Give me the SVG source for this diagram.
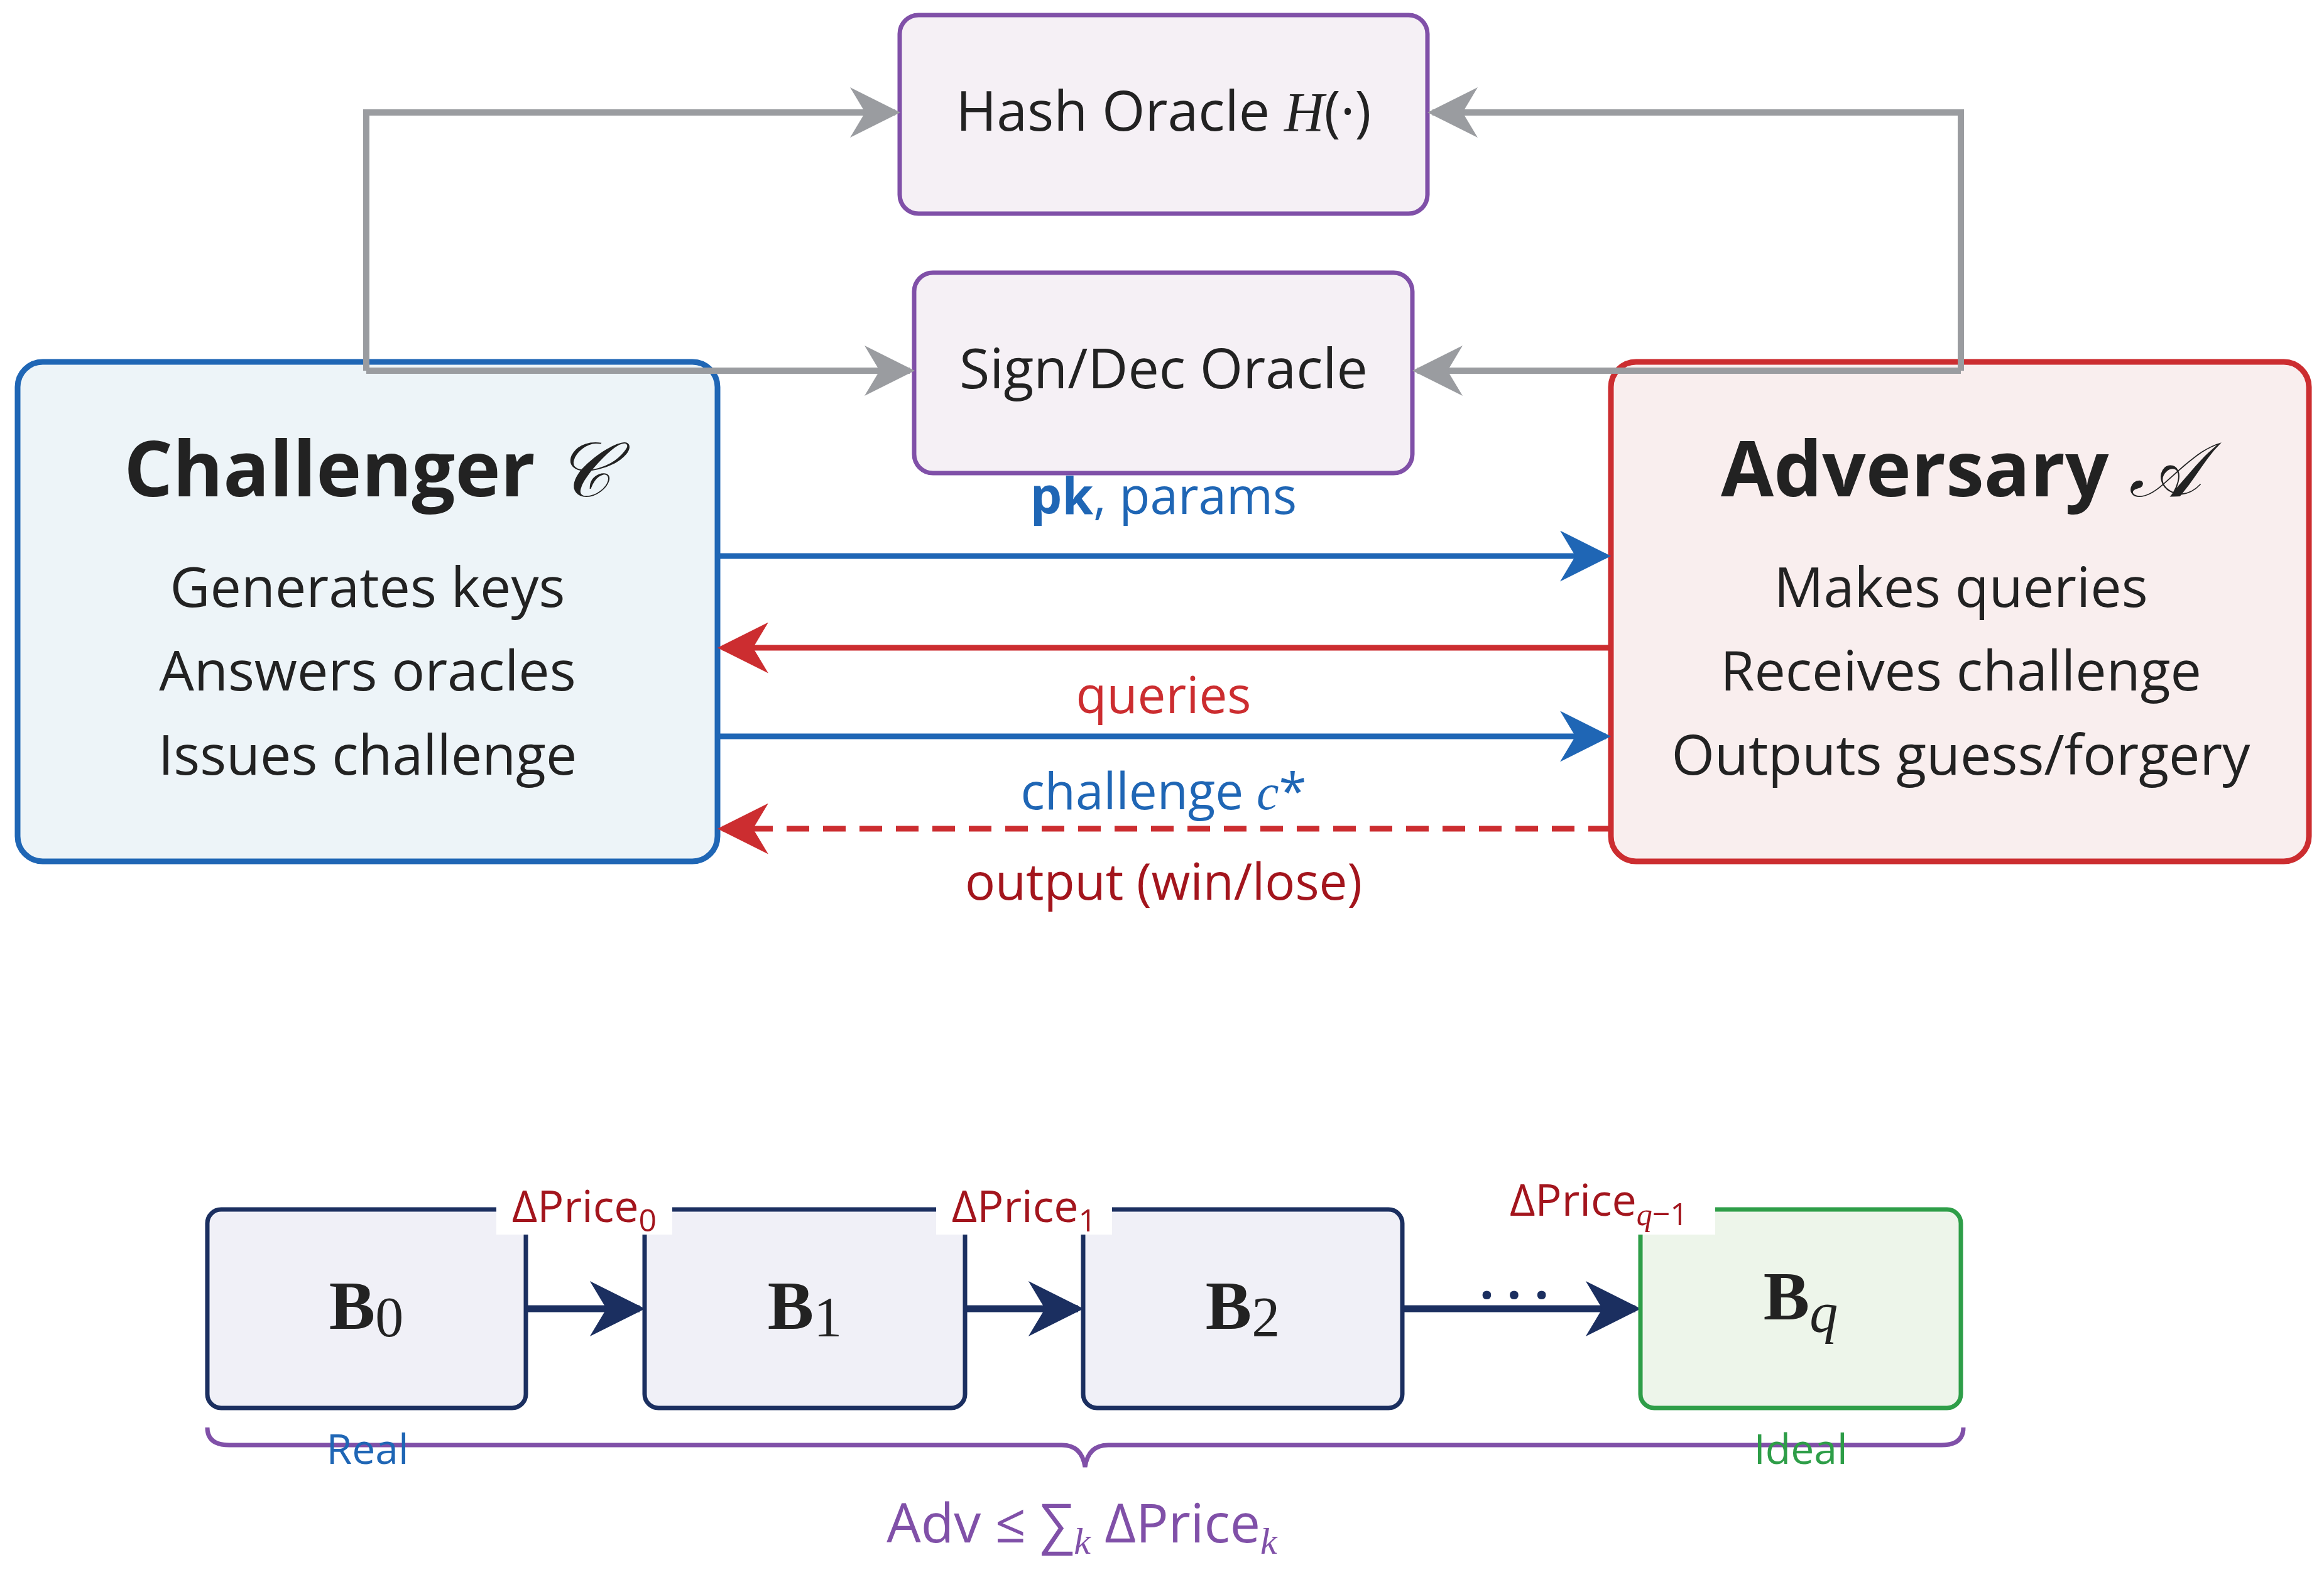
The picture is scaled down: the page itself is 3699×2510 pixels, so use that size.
<svg xmlns="http://www.w3.org/2000/svg" width="3699" height="2510" viewBox="0 0 3699 2510">
<style>
text{font-family:"Open Sans","Liberation Sans",sans-serif;text-anchor:middle}
.m{font-family:"Liberation Serif",serif;font-style:italic}
.body{font-size:88px;fill:#222}
.title{font-size:122px;font-weight:bold;fill:#222}
.or{font-size:88px;fill:#222}
.g{fill:none;stroke:#9a9ca0;stroke-width:10}
.bl{stroke:#1f66b5;stroke-width:9;fill:none}
.rd{stroke:#cc2d30;stroke-width:9;fill:none}
.nv{stroke:#1b2f60;stroke-width:11;fill:none}
.bx{fill:#f0f0f7;stroke:#1b2f60;stroke-width:7}
.lab{font-size:70px;fill:#a3151d}
.bt{font-family:"Liberation Serif",serif;font-size:110px;fill:#222}
</style>
<defs>
<marker id="gA" viewBox="0 0 10 10" refX="9" refY="5" markerWidth="10" markerHeight="8" orient="auto"><path d="M0,0 L10,5 L0,10 L3,5z" fill="#9a9ca0"/></marker>
<marker id="bA" viewBox="0 0 10 10" refX="9" refY="5" markerWidth="11" markerHeight="9" orient="auto"><path d="M0,0 L10,5 L0,10 L3,5z" fill="#1f66b5"/></marker>
<marker id="rA" viewBox="0 0 10 10" refX="9" refY="5" markerWidth="11" markerHeight="9" orient="auto"><path d="M0,0 L10,5 L0,10 L3,5z" fill="#cc2d30"/></marker>
<marker id="nA" viewBox="0 0 10 10" refX="9" refY="5" markerWidth="9" markerHeight="8" orient="auto"><path d="M0,0 L10,5 L0,10 L3,5z" fill="#1b2f60"/></marker>
</defs>
<rect width="3699" height="2510" fill="#fff"/>
<g id="challenger"><rect x="28" y="576" width="1114" height="795" rx="40" fill="#edf4f8" stroke="#1f66b5" stroke-width="9"/>
<text x="585" y="790" class="title">Challenger <tspan class="m" font-weight="normal">𝒞</tspan></text>
<text x="585" y="966" class="body">Generates keys</text>
<text x="585" y="1099" class="body">Answers oracles</text>
<text x="585" y="1233" class="body">Issues challenge</text></g>
<g id="adversary"><rect x="2564" y="576" width="1111" height="795" rx="40" fill="#f9eeee" stroke="#cc2d30" stroke-width="9"/>
<text x="3121" y="790" class="title">Adversary <tspan class="m" font-weight="normal">𝒜</tspan></text>
<text x="3121" y="966" class="body">Makes queries</text>
<text x="3121" y="1099" class="body">Receives challenge</text>
<text x="3121" y="1233" class="body">Outputs guess/forgery</text></g>
<g id="hash"><rect x="1432" y="24" width="840" height="316" rx="30" fill="#f5f0f5" stroke="#8050a8" stroke-width="7"/>
<text x="1852" y="208" class="or">Hash Oracle <tspan class="m">H</tspan>(·)</text></g>
<g id="sign"><rect x="1455" y="434" width="793" height="319" rx="30" fill="#f5f0f5" stroke="#8050a8" stroke-width="7"/>
<text x="1852" y="618" class="or">Sign/Dec Oracle</text></g>
<g id="connectors">
<path class="g" d="M583,590 V179 H1425" marker-end="url(#gA)"/>
<path class="g" d="M583,590 H1448" marker-end="url(#gA)"/>
<path class="g" d="M3121,590 V179 H2280" marker-end="url(#gA)"/>
<path class="g" d="M3121,590 H2256" marker-end="url(#gA)"/>
<path class="bl" d="M1142,885 H2556" marker-end="url(#bA)"/>
<path class="rd" d="M2564,1031 H1150" marker-end="url(#rA)"/>
<path class="bl" d="M1142,1172 H2556" marker-end="url(#bA)"/>
<path class="rd" d="M2564,1319 H1150" stroke-dasharray="36,22" marker-end="url(#rA)"/>
<path class="nv" d="M837,2083 H1018" marker-end="url(#nA)"/>
<path class="nv" d="M1536,2083 H1716" marker-end="url(#nA)"/>
<path class="nv" d="M2232,2083 H2603" marker-end="url(#nA)"/>
</g>
<g id="labels">
<text x="1852" y="818" font-size="80" fill="#1f66b5"><tspan font-weight="bold">pk</tspan>, params</text>
<text x="1852" y="1135" font-size="80" fill="#cc2d30">queries</text>
<text x="1852" y="1288" font-size="80" fill="#1f66b5">challenge <tspan class="m">c</tspan>*</text>
<text x="1852" y="1432" font-size="80" fill="#a3151d">output (win/lose)</text>
</g>
<g id="B0"><rect class="bx" x="330" y="1925" width="507" height="316" rx="22"/><text x="583" y="2115" class="bt"><tspan font-weight="bold">B</tspan><tspan font-size="90" dy="12">0</tspan></text></g>
<g id="B1"><rect class="bx" x="1026" y="1925" width="510" height="316" rx="22"/><text x="1281" y="2115" class="bt"><tspan font-weight="bold">B</tspan><tspan font-size="90" dy="12">1</tspan></text></g>
<g id="B2"><rect class="bx" x="1724" y="1925" width="508" height="316" rx="22"/><text x="1978" y="2115" class="bt"><tspan font-weight="bold">B</tspan><tspan font-size="90" dy="12">2</tspan></text></g>
<g id="Bq"><rect x="2611" y="1925" width="510" height="316" rx="22" fill="#edf5ea" stroke="#2e9e48" stroke-width="7"/><text x="2866" y="2100" class="bt"><tspan font-weight="bold">B</tspan><tspan class="m" font-size="90" dy="20">q</tspan></text></g>
<g id="deltas">
<rect x="790" y="1880" width="280" height="85" fill="#fff"/><text x="930" y="1945" class="lab">ΔPrice<tspan font-size="50" dy="15">0</tspan></text>
<rect x="1490" y="1880" width="280" height="85" fill="#fff"/><text x="1630" y="1945" class="lab">ΔPrice<tspan font-size="50" dy="15">1</tspan></text>
<rect x="2370" y="1870" width="360" height="95" fill="#fff"/><text x="2545" y="1935" class="lab">ΔPrice<tspan font-size="50" dy="15" class="m">q</tspan><tspan font-size="50">−1</tspan></text>
<text x="2410" y="2090" font-size="80" font-weight="bold" fill="#1b2f60">· · ·</text>
</g>
<g id="brace">
<path d="M330,2272 Q330,2300 365,2300 H1690 Q1722,2300 1727,2335 Q1732,2300 1764,2300 H3090 Q3125,2300 3125,2272" fill="none" stroke="#8050a8" stroke-width="7"/>
<text x="585" y="2330" font-size="66" fill="#1f66b5">Real</text>
<text x="2866" y="2330" font-size="66" fill="#2e9e48">Ideal</text>
<text x="1722" y="2455" font-size="86" fill="#8050a8">Adv ≤ ∑<tspan class="m" font-size="60" dy="18">k</tspan><tspan dy="-18"> ΔPrice</tspan><tspan class="m" font-size="60" dy="18">k</tspan></text>
</g>
</svg>
